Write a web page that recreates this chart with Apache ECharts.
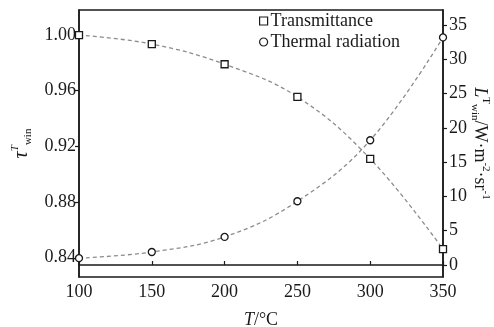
<!DOCTYPE html>
<html>
<head>
<meta charset="utf-8">
<script src="https://cdn.jsdelivr.net/npm/echarts@6/dist/echarts.min.js"></script>
<style>
  html, body { margin: 0; padding: 0; background: #fff; }
  #chart { width: 494px; height: 327px; }
</style>
</head>
<body>
<div id="chart"></div>
<script>
// 温度 (°C)
const temps = [100, 150, 200, 250, 300, 350];
// 透过率 τ（左轴）
const transmittance = [1.000, 0.9935, 0.979, 0.9555, 0.911, 0.846];
// 热辐射 L（右轴，W·m^-2·sr^-1）
const thermal = [1.0, 1.9, 4.1, 9.3, 18.2, 33.2];
// 刻度
const leftTicks = [0.84, 0.88, 0.92, 0.96, 1.00];
const rightTicks = [0, 5, 10, 15, 20, 25, 30, 35];

const FONT = "'Liberation Serif', 'DejaVu Serif', serif";
const INK = '#1a1a1a';

const chart = echarts.init(document.getElementById('chart'));

const axisBase = {
  axisLine: { show: true, lineStyle: { color: INK, width: 1.5 } },
  splitLine: { show: false },
  axisLabel: { color: INK, fontFamily: FONT, fontSize: 18 }
};

const option = {
  animation: false,
  grid: {
    left: 79, right: 51, top: 10, bottom: 50,
    outerBoundsMode: 'none',
    containLabel: false,
    show: true, borderColor: INK, borderWidth: 1.5
  },
  legend: {
    orient: 'vertical',
    left: 254, top: 7,
    itemWidth: 8, itemHeight: 8, itemGap: 3,
    textStyle: { fontFamily: FONT, fontSize: 18, color: INK, padding: [0, 0, 0, -2] },
    data: [
      { name: 'Transmittance', icon: 'rect', itemStyle: { color: '#fff', borderColor: INK, borderWidth: 1.2 } },
      { name: 'Thermal radiation', icon: 'circle', itemStyle: { color: '#fff', borderColor: INK, borderWidth: 1.2 } }
    ]
  },
  xAxis: {
    ...axisBase,
    type: 'value',
    min: 100, max: 350, interval: 50,
    axisTick: { show: true, inside: true, length: 4, lineStyle: { color: INK, width: 1.2 } },
    axisLabel: { ...axisBase.axisLabel, margin: 6 },
    name: '{i|T}/°C',
    nameLocation: 'middle',
    nameGap: 34,
    nameTextStyle: {
      fontFamily: FONT, fontSize: 18, color: INK,
      rich: { i: { fontFamily: FONT, fontSize: 18, fontStyle: 'italic', color: INK } }
    }
  },
  yAxis: [
    {
      ...axisBase,
      type: 'value',
      min: 0.826, max: 1.018,
      axisTick: { show: true, length: 4, customValues: leftTicks, lineStyle: { color: INK, width: 1.2 } },
      axisLabel: {
        ...axisBase.axisLabel, margin: 3,
        customValues: leftTicks,
        formatter: (v) => v.toFixed(2)
      },
      name: '{t|τ}{sup|T}{sub|win}',
      nameLocation: 'middle',
      nameRotate: 90,
      nameGap: 45,
      nameTextStyle: {
        color: INK, fontFamily: FONT,
        rich: {
          t: { fontFamily: FONT, fontSize: 20, fontStyle: 'italic', color: INK, lineHeight: 24 },
          sup: { fontFamily: FONT, fontSize: 11, fontStyle: 'italic', color: INK, verticalAlign: 'top', lineHeight: 24 },
          sub: { fontFamily: FONT, fontSize: 11, color: INK, verticalAlign: 'bottom', lineHeight: 24 }
        }
      }
    },
    {
      ...axisBase,
      type: 'value',
      position: 'right',
      min: -1.75, max: 37.2,
      axisTick: { show: true, length: 4, customValues: rightTicks, lineStyle: { color: INK, width: 1.2 } },
      axisLabel: { ...axisBase.axisLabel, margin: 6, customValues: rightTicks },
      name: '{i|L}{sup|T}{sub|win}{n|/W·m}{sup|-2}{n|·sr}{sup|-1}',
      nameLocation: 'middle',
      nameRotate: -90,
      nameGap: 26,
      nameMoveOverlap: false,
      nameTextStyle: {
        color: INK, fontFamily: FONT,
        rich: {
          i: { fontFamily: FONT, fontSize: 18, fontStyle: 'italic', color: INK, lineHeight: 22 },
          n: { fontFamily: FONT, fontSize: 18, color: INK, lineHeight: 22 },
          sup: { fontFamily: FONT, fontSize: 11, color: INK, verticalAlign: 'top', lineHeight: 22 },
          sub: { fontFamily: FONT, fontSize: 11, color: INK, verticalAlign: 'bottom', lineHeight: 22 }
        }
      }
    }
  ],
  series: [
    {
      name: 'Transmittance',
      type: 'line',
      yAxisIndex: 0,
      smooth: 0.4,
      symbol: 'rect',
      symbolSize: 7,
      itemStyle: { color: '#fff', borderColor: INK, borderWidth: 1.3 },
      lineStyle: { color: '#8c8c8c', width: 1.3, type: [4, 3] },
      data: temps.map((t, i) => [t, transmittance[i]])
    },
    {
      name: 'Thermal radiation',
      type: 'line',
      yAxisIndex: 1,
      smooth: 0.4,
      symbol: 'circle',
      symbolSize: 7,
      itemStyle: { color: '#fff', borderColor: INK, borderWidth: 1.3 },
      lineStyle: { color: '#8c8c8c', width: 1.3, type: [4, 3] },
      data: temps.map((t, i) => [t, thermal[i]])
    }
  ]
};

chart.setOption(option);
</script>
</body>
</html>
